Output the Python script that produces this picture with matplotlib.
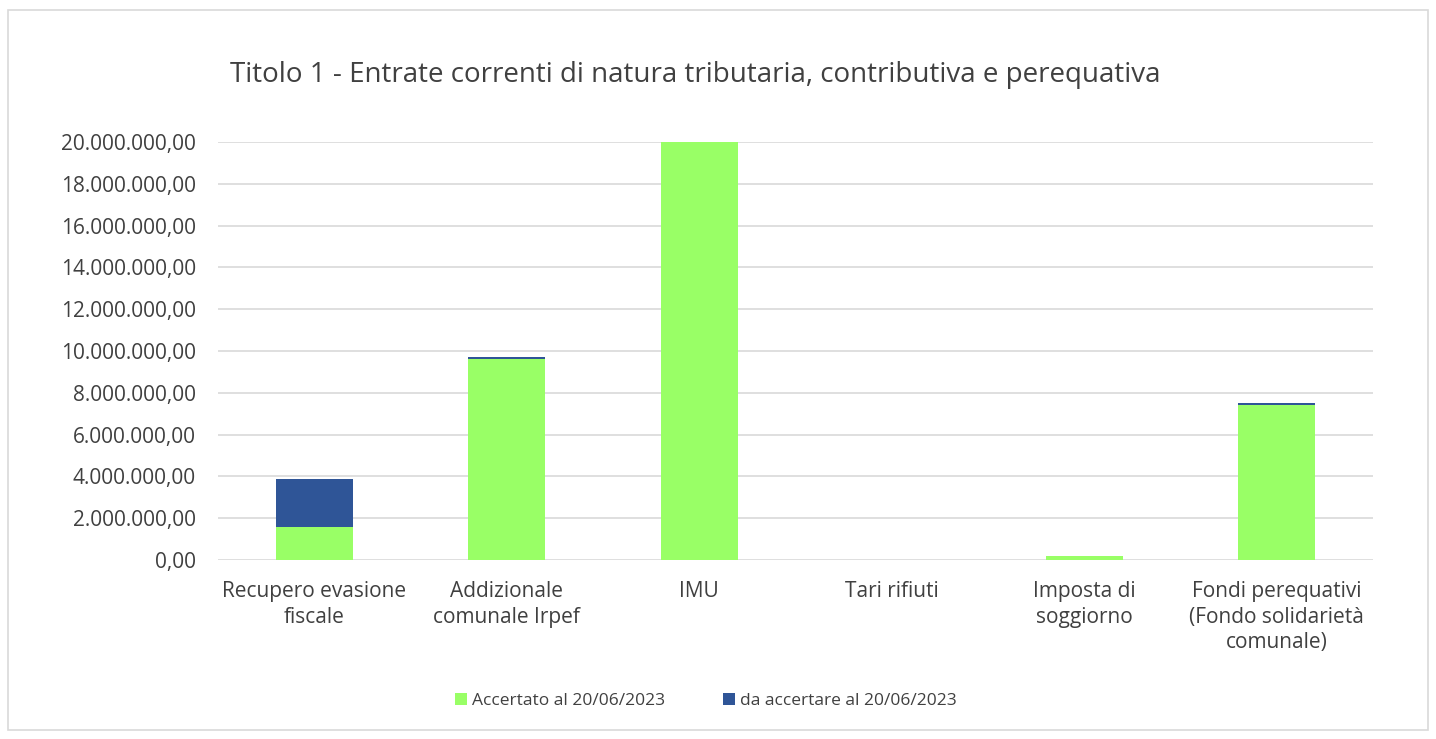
import matplotlib
matplotlib.use('Agg')
import matplotlib.pyplot as plt
from matplotlib.patches import Rectangle
from matplotlib.ticker import FuncFormatter
import numpy as np

categories = ['Recupero evasione\nfiscale', 'Addizionale\ncomunale Irpef', 'IMU',
              'Tari rifiuti', 'Imposta di\nsoggiorno',
              'Fondi perequativi\n(Fondo solidarietà\ncomunale)']
accertato = [1580000, 9630000, 20000000, 0, 190000, 7440000]
da_accertare = [2300000, 90000, 0, 0, 0, 70000]

green = '#99ff66'
blue = '#2f5597'
grid_col = '#d9d9d9'

plt.rcParams['font.family'] = ['Open Sans', 'DejaVu Sans']

fig = plt.figure(figsize=(14.36, 7.39), dpi=100)
ax = fig.add_axes([218/1436, 1 - 560/739, 1155/1436, 418/739])

x = np.arange(len(categories))
ax.bar(x, accertato, width=0.4, color=green, label='Accertato al 20/06/2023', zorder=3)
ax.bar(x, da_accertare, width=0.4, bottom=accertato, color=blue,
       label='da accertare al 20/06/2023', zorder=3)

ax.set_xlim(-0.5, len(categories) - 0.5)
ax.set_ylim(0, 20000000)
ax.set_yticks(np.arange(0, 20000001, 2000000))

def ita(v, pos):
    s = '{:,.2f}'.format(v)
    return s.replace(',', 'X').replace('.', ',').replace('X', '.')

ax.yaxis.set_major_formatter(FuncFormatter(ita))
ax.grid(axis='y', color=grid_col, linewidth=1.2, zorder=0)
for s in ax.spines.values():
    s.set_visible(False)
ax.tick_params(length=0, labelsize=15, colors='#404040', pad=16)
ax.tick_params(axis='x', pad=15)
ax.set_xticks(x)
ax.set_xticklabels(categories, fontsize=15, color='#404040', linespacing=1.3)

fig.text(695/1436, 1 - 75/739, 'Titolo 1 - Entrate correnti di natura tributaria, contributiva e perequativa',
         ha='center', va='center', fontsize=20, color='#404040')

ax.legend(loc='center', bbox_to_anchor=(706/1436, 1 - 701/739), bbox_transform=fig.transFigure,
          ncol=2, frameon=False, fontsize=12.5, handlelength=0.7, handleheight=0.7,
          handletextpad=0.3, columnspacing=3.3, labelcolor='#404040')

fig.patches.append(Rectangle((8/1436, 1 - 730/739), 1420/1436, 720/739,
                             transform=fig.transFigure, fill=False,
                             edgecolor=grid_col, linewidth=1.2))

fig.savefig('out.png', dpi=100)
